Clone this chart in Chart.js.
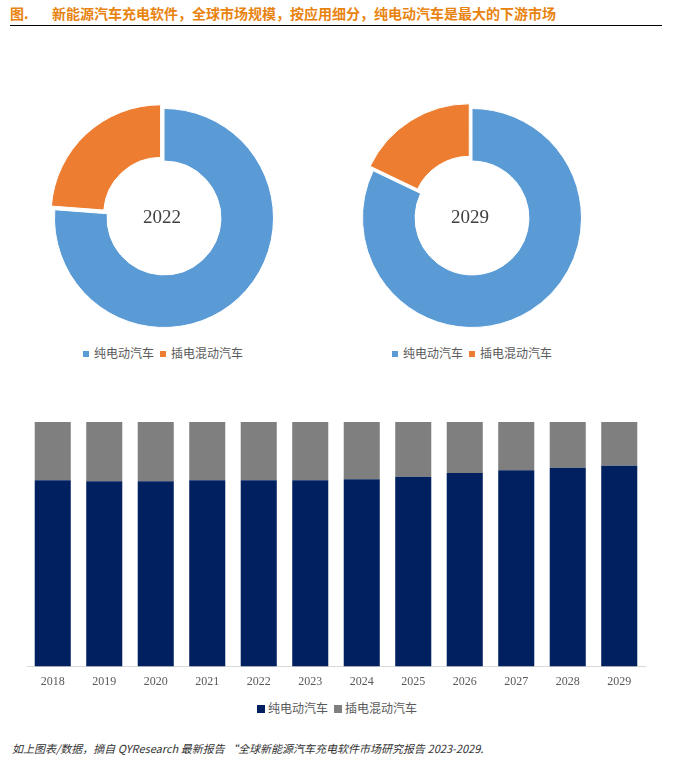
<!DOCTYPE html>
<html>
<head>
<meta charset="utf-8">
<title>新能源汽车充电软件 全球市场规模</title>
<script src="https://cdn.jsdelivr.net/npm/chart.js@4.4.0/dist/chart.umd.min.js"></script>
<style>
	body { margin:0; width:686px; height:761px; background:#fff; position:relative; overflow:hidden; font-family:"Noto Sans CJK SC", "Noto Sans", sans-serif; }
	#title { position:absolute; left:10px; top:4px; font-size:14px; font-weight:bold; color:#E8830F; white-space:nowrap; line-height:18px; }
	#title .no { display:inline-block; width:42px; }
	#titleLine { position:absolute; left:10px; top:25px; width:652px; height:1px; background:#000; }
	.box { position:absolute; }
	.legend { position:absolute; font-size:12px; color:#595959; white-space:nowrap; line-height:14px; }
	.legend i { display:inline-block; width:6px; height:6px; margin-right:5px; vertical-align:1px; }
	.legend span { margin-right:6px; }
	#barLegend i { width:8px; height:8px; margin-right:3px; vertical-align:0px; }
	#note { position:absolute; left:12px; top:740px; font-size:11px; font-style:italic; color:#333; white-space:nowrap; }
</style>
</head>
<body>
<div id="title"><span class="no">图.</span>新能源汽车充电软件，全球市场规模，按应用细分，纯电动汽车是最大的下游市场</div>
<div id="titleLine"></div>

<div class="box" style="left:44px; top:98px;"><canvas id="pie2022" width="240" height="240"></canvas></div>
<div class="box" style="left:352px; top:98px;"><canvas id="pie2029" width="240" height="240"></canvas></div>

<div class="legend" id="pieLegend1" style="left:83px; top:346px;"></div>
<div class="legend" id="pieLegend2" style="left:392px; top:346px;"></div>

<div class="box" style="left:0px; top:410px;"><canvas id="barChart" width="686" height="289"></canvas></div>
<div class="legend" id="barLegend" style="left:257px; top:701px;"></div>

<div id="note">如上图表/数据，摘自 QYResearch 最新报告 “全球新能源汽车充电软件市场研究报告 2023-2029.</div>

<script>
// 数据
var seriesNames = ['纯电动汽车', '插电混动汽车'];
var pieYears = ['2022', '2029'];
var share2022 = [76.2, 23.8];
var share2029 = [82.1, 17.9];

var years = ['2018', '2019', '2020', '2021', '2022', '2023', '2024', '2025', '2026', '2027', '2028', '2029'];
var bevShare = [76.2, 75.8, 75.8, 76.2, 76.2, 76.2, 76.6, 77.6, 79.2, 80.3, 81.3, 82.1];
var phevShare = [23.8, 24.2, 24.2, 23.8, 23.8, 23.8, 23.4, 22.4, 20.8, 19.7, 18.7, 17.9];

var pieColors = ['#5B9BD5', '#ED7D31'];
var barColors = ['#002060', '#7F7F7F'];

// 圆环中心年份
var centerText = {
	id: 'centerText',
	afterDraw: function(chart, args, opts){
		var arc = chart.getDatasetMeta(0).data[0];
		var ctx = chart.ctx;
		ctx.save();
		ctx.font = '19px "Liberation Serif"';
		ctx.fillStyle = '#404040';
		ctx.textAlign = 'center';
		ctx.textBaseline = 'middle';
		ctx.fillText(opts.text, arc.x - 2, arc.y);
		ctx.restore();
	}
};

function makePie(id, values, year){
	var ctx = document.getElementById(id).getContext('2d');
	new Chart(ctx, {
		type: 'doughnut',
		data: {
			labels: seriesNames,
			datasets: [{
				data: values,
				backgroundColor: pieColors,
				borderColor: '#fff',
				borderWidth: 1,
				offset: [0, 20]
			}]
		},
		options: {
			responsive: false,
			animation: false,
			cutout: '52%',
			plugins: {
				legend: { display: false },
				tooltip: { enabled: false },
				centerText: { text: year }
			}
		},
		plugins: [centerText]
	});
}

function makeLegend(id, colors){
	var html = '';
	for(var i = 0; i < seriesNames.length; i++){
		html += '<i style="background:' + colors[i] + '"></i><span>' + seriesNames[i] + '</span>';
	}
	document.getElementById(id).innerHTML = html;
}

makePie('pie2022', share2022, pieYears[0]);
makePie('pie2029', share2029, pieYears[1]);
makeLegend('pieLegend1', pieColors);
makeLegend('pieLegend2', pieColors);
makeLegend('barLegend', barColors);

// 堆积柱状图
new Chart(document.getElementById('barChart').getContext('2d'), {
	type: 'bar',
	data: {
		labels: years,
		datasets: [
			{ label: seriesNames[0], data: bevShare, backgroundColor: barColors[0], barPercentage: 0.7, categoryPercentage: 1.0 },
			{ label: seriesNames[1], data: phevShare, backgroundColor: barColors[1], barPercentage: 0.7, categoryPercentage: 1.0 }
		]
	},
	options: {
		responsive: false,
		animation: false,
		layout: { padding: { left: 27, right: 41, top: 12, bottom: 2 } },
		plugins: {
			legend: { display: false },
			tooltip: { enabled: false }
		},
		scales: {
			x: {
				stacked: true,
				grid: { display: false, drawTicks: false },
				border: { display: true, color: '#D9D9D9', width: 1 },
				ticks: { color: '#595959', padding: 8, font: { family: 'Liberation Serif', size: 12 } }
			},
			y: {
				stacked: true,
				display: false,
				min: 0,
				max: 100
			}
		}
	}
});
</script>
</body>
</html>
